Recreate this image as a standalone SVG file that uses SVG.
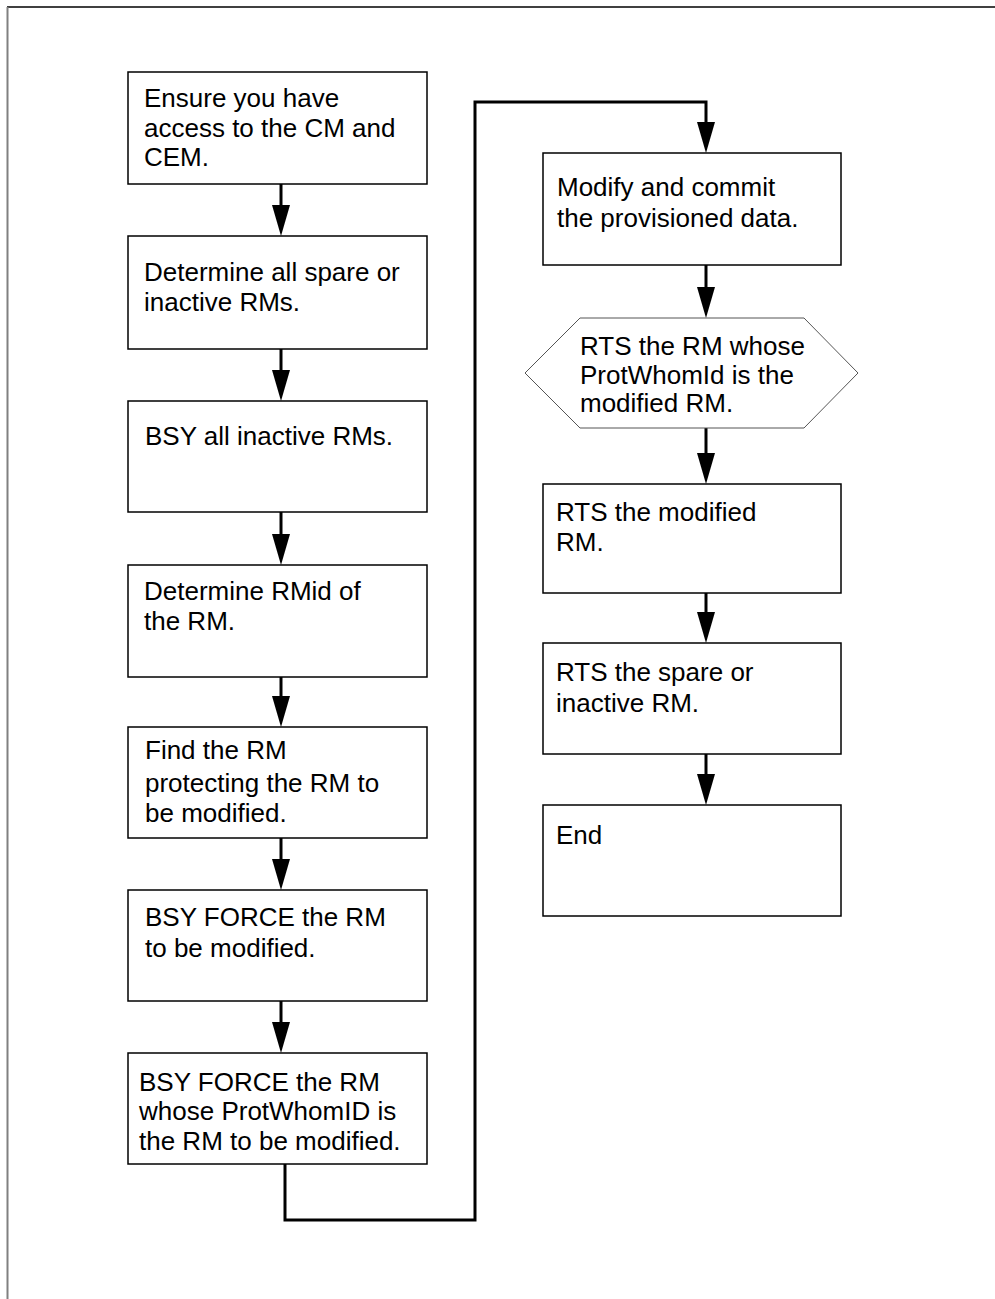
<svg xmlns="http://www.w3.org/2000/svg" width="995" height="1299" viewBox="0 0 995 1299">
  <style>
    .box { fill: #ffffff; stroke: #000000; stroke-width: 1.5; }
    .hex { fill: #ffffff; stroke: #555555; stroke-width: 1; }
    .lbl { font-family: "Liberation Sans", Arial, sans-serif; font-size: 26px; fill: #000000; }
    .wire { fill: none; stroke: #000000; stroke-width: 3; }
  </style>
  <defs>
    <!-- solid arrowhead, drawn ahead of the line end -->
    <marker id="ah" markerUnits="userSpaceOnUse" markerWidth="33" markerHeight="18" refX="0" refY="9" orient="auto" overflow="visible">
      <path d="M0,0 L31,9 L0,18 Z" fill="#000000"/>
    </marker>
  </defs>
  <rect width="995" height="1299" fill="#ffffff"/>

  <!-- page frame -->
  <g id="frame">
    <line x1="7" y1="7" x2="995" y2="7" stroke="#000000" stroke-width="1.5"/>
    <line x1="7.5" y1="7" x2="7.5" y2="1299" stroke="#808080" stroke-width="2"/>
  </g>

  <!-- connectors -->
  <g id="connectors">
    <path class="wire" d="M281 184 V205" marker-end="url(#ah)"/>
    <path class="wire" d="M281 349 V370" marker-end="url(#ah)"/>
    <path class="wire" d="M281 512 V534" marker-end="url(#ah)"/>
    <path class="wire" d="M281 677 V696" marker-end="url(#ah)"/>
    <path class="wire" d="M281 838 V859" marker-end="url(#ah)"/>
    <path class="wire" d="M281 1001 V1022" marker-end="url(#ah)"/>
    <path class="wire" d="M285 1164 V1220 H475 V102 H706 V122" marker-end="url(#ah)"/>
    <path class="wire" d="M706 265 V287" marker-end="url(#ah)"/>
    <path class="wire" d="M706 428 V453" marker-end="url(#ah)"/>
    <path class="wire" d="M706 593 V612" marker-end="url(#ah)"/>
    <path class="wire" d="M706 754 V774" marker-end="url(#ah)"/>
  </g>

  <g id="n1">
    <rect class="box" x="128" y="72" width="299" height="112"/>
    <text class="lbl" x="144" y="107">Ensure you have</text>
    <text class="lbl" x="144" y="136.5">access to the CM and</text>
    <text class="lbl" x="144" y="166">CEM.</text>
  </g>
  <g id="n2">
    <rect class="box" x="128" y="236" width="299" height="113"/>
    <text class="lbl" x="144" y="281">Determine all spare or</text>
    <text class="lbl" x="144" y="311">inactive RMs.</text>
  </g>
  <g id="n3">
    <rect class="box" x="128" y="401" width="299" height="111"/>
    <text class="lbl" x="145" y="445">BSY all inactive RMs.</text>
  </g>
  <g id="n4">
    <rect class="box" x="128" y="565" width="299" height="112"/>
    <text class="lbl" x="144" y="600">Determine RMid of</text>
    <text class="lbl" x="144" y="630">the RM.</text>
  </g>
  <g id="n5">
    <rect class="box" x="128" y="727" width="299" height="111"/>
    <text class="lbl" x="145" y="759">Find the RM</text>
    <text class="lbl" x="145" y="792">protecting the RM to</text>
    <text class="lbl" x="145" y="822">be modified.</text>
  </g>
  <g id="n6">
    <rect class="box" x="128" y="890" width="299" height="111"/>
    <text class="lbl" x="145" y="926">BSY FORCE the RM</text>
    <text class="lbl" x="145" y="957">to be modified.</text>
  </g>
  <g id="n7">
    <rect class="box" x="128" y="1053" width="299" height="111"/>
    <text class="lbl" x="139" y="1091">BSY FORCE the RM</text>
    <text class="lbl" x="139" y="1120">whose ProtWhomID is</text>
    <text class="lbl" x="139" y="1150">the RM to be modified.</text>
  </g>
  <g id="n8">
    <rect class="box" x="543" y="153" width="298" height="112"/>
    <text class="lbl" x="557" y="196">Modify and commit</text>
    <text class="lbl" x="557" y="227">the provisioned data.</text>
  </g>
  <g id="n9">
    <polygon class="hex" points="525,373 580,318 804,318 858,373 804,428 580,428"/>
    <text class="lbl" x="580" y="355">RTS the RM whose</text>
    <text class="lbl" x="580" y="384">ProtWhomId is the</text>
    <text class="lbl" x="580" y="412">modified RM.</text>
  </g>
  <g id="n10">
    <rect class="box" x="543" y="484" width="298" height="109"/>
    <text class="lbl" x="556" y="521">RTS the modified</text>
    <text class="lbl" x="556" y="551">RM.</text>
  </g>
  <g id="n11">
    <rect class="box" x="543" y="643" width="298" height="111"/>
    <text class="lbl" x="556" y="681">RTS the spare or</text>
    <text class="lbl" x="556" y="712">inactive RM.</text>
  </g>
  <g id="n12">
    <rect class="box" x="543" y="805" width="298" height="111"/>
    <text class="lbl" x="556" y="844">End</text>
  </g>
</svg>
